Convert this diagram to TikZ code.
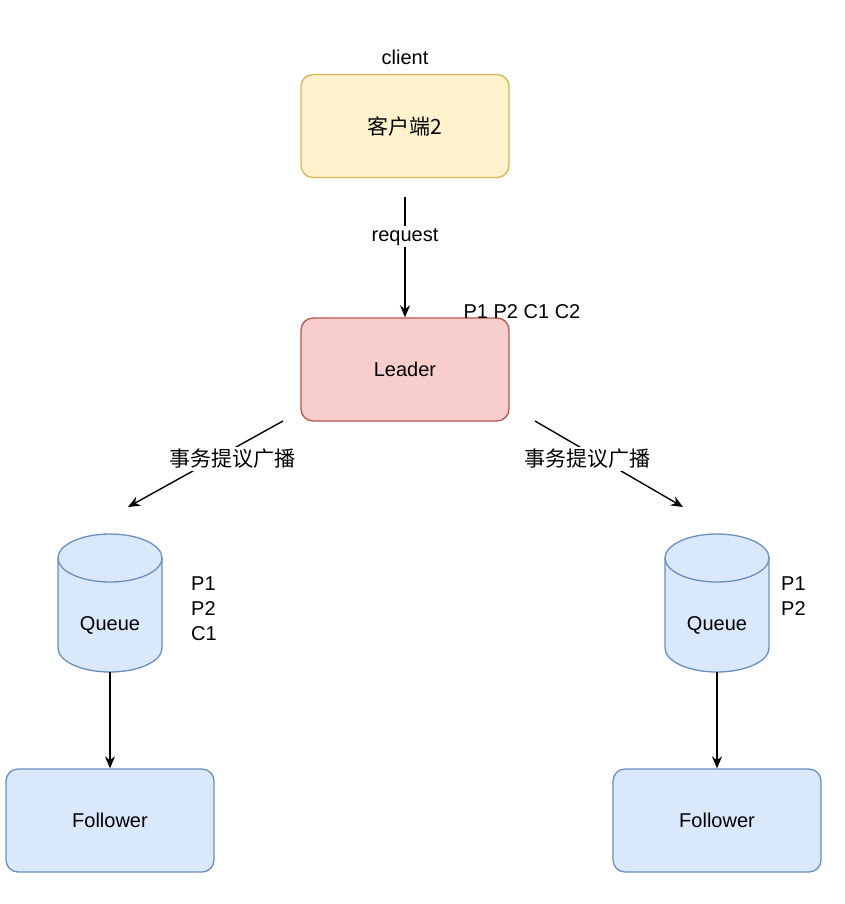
\documentclass[tikz,border=0pt]{standalone}
\usepackage{fontspec}
\setmainfont{Liberation Sans}
\newfontfamily\cjk{Noto Sans CJK SC}
\usetikzlibrary{shapes.geometric,arrows.meta}
\definecolor{yf}{HTML}{FFF2CC}\definecolor{ys}{HTML}{D6B656}
\definecolor{rf}{HTML}{F8CECC}\definecolor{rs}{HTML}{B85450}
\definecolor{bf}{HTML}{DAE8FC}\definecolor{bs}{HTML}{6C8EBF}
\begin{document}
\begin{tikzpicture}[x=1pt,y=-1pt,font=\fontsize{20}{23}\selectfont,
 box/.style={draw=#1s,fill=#1f,rounded corners=12pt,minimum width=208pt,minimum height=103pt,line width=1.3pt},
 cylline/.style={draw=bs,fill=bf,line width=1.3pt},
 cyl/.style={minimum width=104pt,minimum height=138pt,inner sep=0pt},
 arr/.style={-{Stealth[length=12pt,width=10pt]},line width=1.4pt},
 lbl/.style={fill=white,inner sep=2pt},
 ck/.style={font=\fontsize{21}{24}\selectfont\cjk}]
\useasboundingbox (0,0) rectangle (844,904);
\node[box=y,ck] (client) at (405,126) {客户端2};
\node (ct) at (405,57) {client};
\node[box=r] (leader) at (405,369.5) {Leader};
\node (pl) at (522,312) {P1 P2 C1 C2};
\coordinate (rq) at (405,197);
\draw[arr] (rq) -- (leader.north) node[lbl,pos=0.33] {request};
\coordinate (ls) at (283,421); \coordinate (le) at (128,507);
\coordinate (rs) at (535,421); \coordinate (re) at (683,507);
\draw[arr] (ls) -- (le);
\draw[arr] (rs) -- (re);
\node[lbl,ck] (l1) at (232,459) {事务提议广播};
\node[lbl,ck] (l2) at (587,459) {事务提议广播};
\foreach \cx/\nm in {110/q1,717/q2}{
  \path[cylline] (\cx-52,558) -- (\cx-52,648) arc[start angle=180,end angle=0,x radius=52,y radius=24] -- (\cx+52,558) -- cycle;
  \path[cylline] (\cx,558) ellipse[x radius=52,y radius=24];
  \node[cyl] (\nm) at (\cx,603) {};
  \node at (\cx,625) {Queue};
}
\node[align=left,anchor=north west,inner sep=0pt,font=\fontsize{20}{25}\selectfont] (p1) at (191,577) {P1\\P2\\C1};
\node[align=left,anchor=north west,inner sep=0pt,font=\fontsize{20}{25}\selectfont] (p2) at (781,577) {P1\\P2};
\node[box=b] (f1) at (110,820.5) {Follower};
\node[box=b] (f2) at (717,820.5) {Follower};
\draw[arr] (q1.south) -- (f1.north);
\draw[arr] (q2.south) -- (f2.north);
\end{tikzpicture}
\end{document}
